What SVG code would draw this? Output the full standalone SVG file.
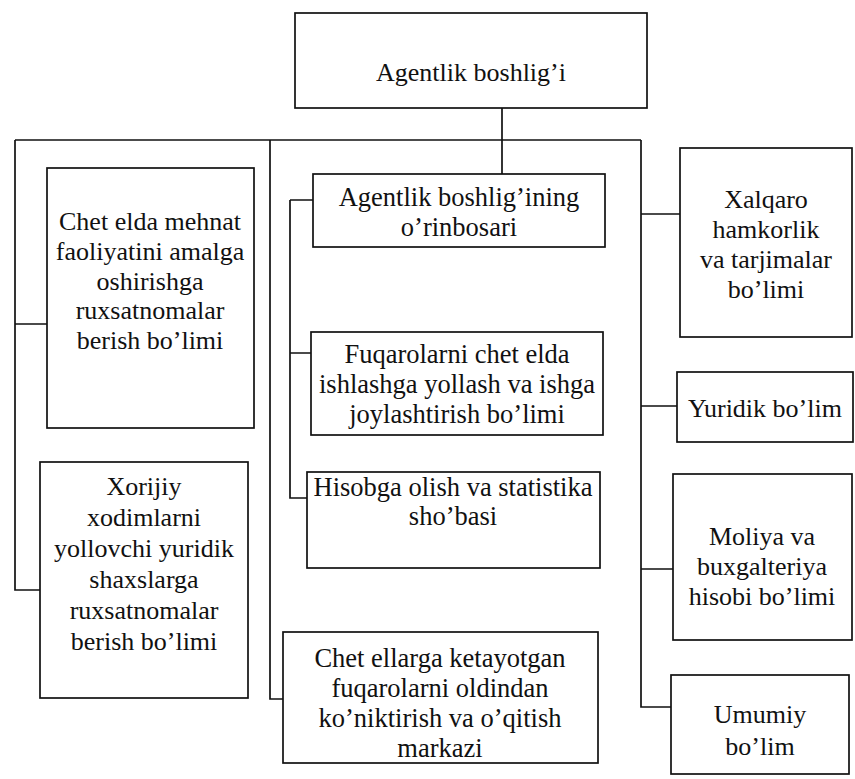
<svg xmlns="http://www.w3.org/2000/svg" width="855" height="779" viewBox="0 0 855 779">
<style>
.box{fill:#fff;stroke:#111;stroke-width:1.7}
.ln{fill:none;stroke:#111;stroke-width:1.7}
text{font-family:"Liberation Serif","Times New Roman",serif;font-size:26px;fill:#111;text-anchor:middle}
.m{font-size:26.5px}
</style>
<rect width="855" height="779" fill="#fff"/>
<g id="connectors">
<path class="ln" d="M502,108V174"/>
<path class="ln" d="M15,140H641"/>
<path class="ln" d="M15,140V590H40M15,324H47"/>
<path class="ln" d="M270,140V699H283"/>
<path class="ln" d="M290,200V498H307M290,200H313M290,353H311"/>
<path class="ln" d="M641,140V707H671M641,214H680M641,406H677M641,569H673"/>
</g>
<g id="n-top"><rect class="box" x="295" y="13" width="352" height="95"/><text x="471" y="81">Agentlik boshlig’i</text></g>
<g id="n-l1"><rect class="box" x="47" y="168" width="207" height="260"/>
<text x="150" y="230">Chet elda mehnat</text><text x="150" y="260">faoliyatini amalga</text><text x="150" y="290">oshirishga</text><text x="150" y="319">ruxsatnomalar</text><text x="150" y="349">berish bo’limi</text></g>
<g id="n-l2"><rect class="box" x="40" y="462" width="208" height="236"/>
<text x="144" y="495">Xorijiy</text><text x="144" y="526">xodimlarni</text><text x="144" y="557">yollovchi yuridik</text><text x="144" y="588">shaxslarga</text><text x="144" y="619">ruxsatnomalar</text><text x="144" y="650">berish bo’limi</text></g>
<g id="n-m1"><rect class="box" x="313" y="174" width="292" height="73"/>
<text class="m" x="459" y="206">Agentlik boshlig’ining</text><text class="m" x="459" y="236">o’rinbosari</text></g>
<g id="n-m2"><rect class="box" x="311" y="332" width="292" height="103"/>
<text class="m" x="457" y="363">Fuqarolarni chet elda</text><text class="m" x="457" y="393">ishlashga yollash va ishga</text><text class="m" x="457" y="423">joylashtirish bo’limi</text></g>
<g id="n-m3"><rect class="box" x="307" y="472" width="293" height="96"/>
<text class="m" x="453" y="496">Hisobga olish va statistika</text><text class="m" x="453" y="525">sho’basi</text></g>
<g id="n-m4"><rect class="box" x="283" y="632" width="315" height="131"/>
<text class="m" x="440" y="667">Chet ellarga ketayotgan</text><text class="m" x="440" y="697">fuqarolarni oldindan</text><text class="m" x="440" y="727">ko’niktirish va o’qitish</text><text class="m" x="440" y="757">markazi</text></g>
<g id="n-r1"><rect class="box" x="680" y="148" width="172" height="189"/>
<text x="766" y="208">Xalqaro</text><text x="766" y="238">hamkorlik</text><text x="766" y="268">va tarjimalar</text><text x="766" y="298">bo’limi</text></g>
<g id="n-r2"><rect class="box" x="677" y="372" width="176" height="70"/>
<text x="765" y="417">Yuridik bo’lim</text></g>
<g id="n-r3"><rect class="box" x="673" y="474" width="179" height="166"/>
<text x="762" y="545">Moliya va</text><text x="762" y="575">buxgalteriya</text><text x="762" y="605">hisobi bo’limi</text></g>
<g id="n-r4"><rect class="box" x="671" y="675" width="178" height="99"/>
<text x="760" y="723">Umumiy</text><text x="760" y="755">bo’lim</text></g>
</svg>
